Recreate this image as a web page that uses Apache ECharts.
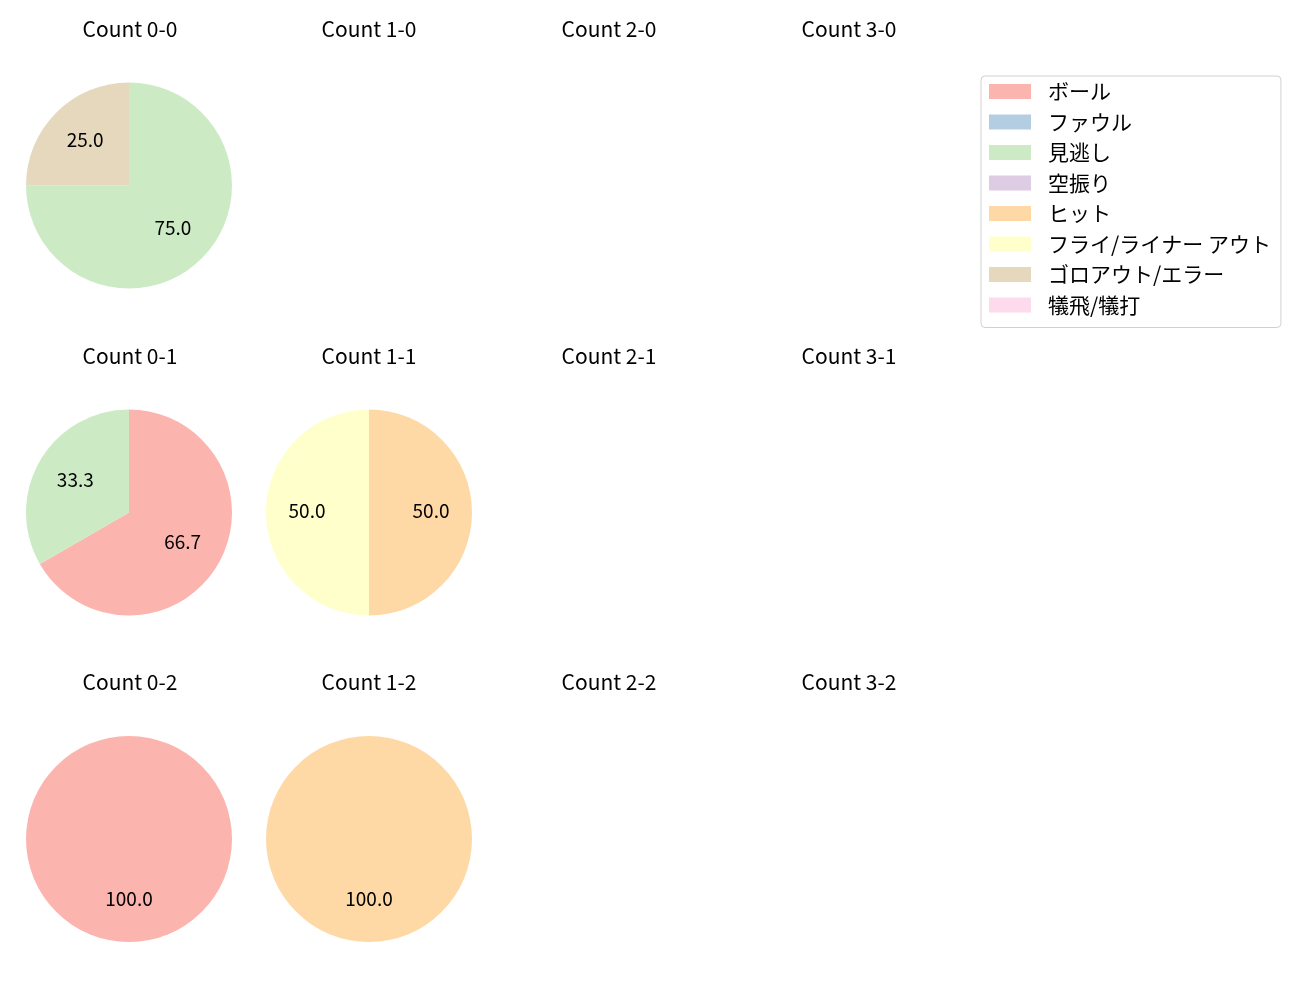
<!DOCTYPE html>
<html>
<head>
<meta charset="utf-8">
<script src="https://cdn.jsdelivr.net/npm/echarts@6/dist/echarts.min.js"></script>
<style>html,body{margin:0;padding:0;background:#fff}#c{width:1300px;height:1000px}</style>
</head>
<body>
<div id="c"></div>
<script>
const categories = ['ボール','ファウル','見逃し','空振り','ヒット','フライ/ライナー アウト','ゴロアウト/エラー','犠飛/犠打'];
const palette = ['#fbb4ae','#b3cde3','#ccebc5','#decbe4','#fed9a6','#ffffcc','#e5d8bd','#fddaec'];
const countTitles = ['Count 0-0','Count 1-0','Count 2-0','Count 3-0','Count 0-1','Count 1-1','Count 2-1','Count 3-1','Count 0-2','Count 1-2','Count 2-2','Count 3-2'];
// counts per category (in category order) for counts that have data
const count00 = [0,0,3,0,0,0,1,0];
const count01 = [2,0,1,0,0,0,0,0];
const count11 = [0,0,0,0,1,1,0,0];
const count02 = [1,0,0,0,0,0,0,0];
const count12 = [0,0,0,0,1,0,0,0];
const pieData = [
  {title:'Count 0-0', values: count00},
  {title:'Count 0-1', values: count01},
  {title:'Count 1-1', values: count11},
  {title:'Count 0-2', values: count02},
  {title:'Count 1-2', values: count12}
];

const FONT = '"Noto Sans CJK JP", "Noto Sans", sans-serif';
const colX = [129, 369, 609, 849];
const titleX = [130, 369, 609, 849];
const rowY = [185.5, 512.5, 839];
const titleY = [29, 356, 682];
const R = 103;

function cellOf(title){ const i = countTitles.indexOf(title); return {c: i % 4, r: Math.floor(i/4)}; }

const titleGraphics = countTitles.map(function(t){
  const p = cellOf(t);
  return {type: 'text', x: titleX[p.c], y: titleY[p.r], silent: true,
    style: {text: t, align: 'center', verticalAlign: 'middle', fontFamily: FONT, fontSize: 21, fill: '#000'}};
});

const mainSeries = [], labelSeries = [];
pieData.forEach(function(pd){
  const p = cellOf(pd.title);
  const total = pd.values.reduce(function(a,b){return a+b;},0);
  const data = categories.map(function(name,i){ return {name: name, value: pd.values[i]}; });
  mainSeries.push({
    type: 'pie', center: [colX[p.c], rowY[p.r]], radius: [0, R], startAngle: 90, clockwise: true,
    data: data, label: {show: false}, labelLine: {show: false}, silent: true, animation: false,
    itemStyle: {borderWidth: 0}
  });
  labelSeries.push({
    type: 'pie', center: [colX[p.c], rowY[p.r]], radius: [15, R], startAngle: 90, clockwise: true,
    data: data, silent: true, animation: false,
    itemStyle: {color: 'rgba(0,0,0,0)', borderWidth: 0},
    labelLine: {show: false},
    label: {show: true, position: 'inside', offset: [0, -2], fontFamily: FONT, fontSize: 19, color: '#000',
      formatter: function(prm){ return prm.value > 0 ? (prm.value/total*100).toFixed(1) : ''; }}
  });
});

const chart = echarts.init(document.getElementById('c'));
chart.setOption({
  animation: false,
  color: palette,
  graphic: titleGraphics,
  legend: {
    data: categories, orient: 'vertical', left: 981, top: 76, icon: 'rect',
    itemWidth: 42, itemHeight: 15, itemGap: 9.5,
    padding: [5, 10, 12, 8], borderColor: '#d0d0d0', borderWidth: 1, borderRadius: 4,
    textStyle: {fontFamily: FONT, fontSize: 21, color: '#000', padding: [0,0,0,12]},
    selectedMode: false
  },
  series: mainSeries.concat(labelSeries)
});
</script>
</body>
</html>
